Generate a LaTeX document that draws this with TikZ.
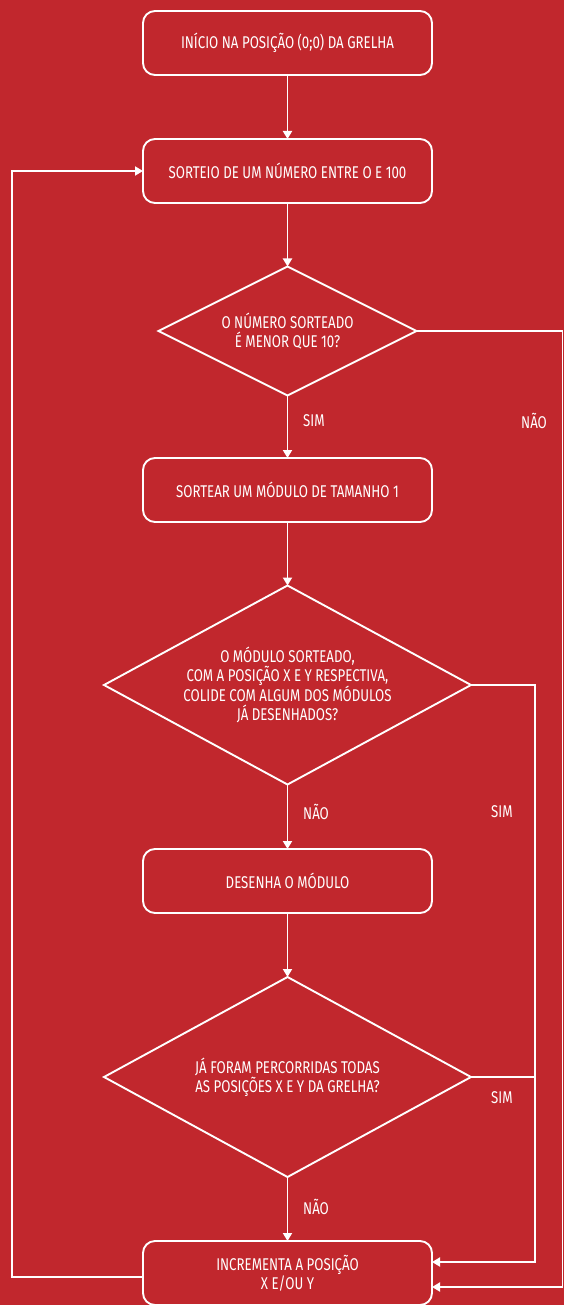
\documentclass[tikz,border=0pt]{standalone}
\usepackage{fontspec}
\setmainfont{Fira Sans}[FakeStretch=0.78]
\usetikzlibrary{shapes.geometric,arrows.meta}
\definecolor{fundo}{RGB}{193,39,45}
\tikzset{
  caixa/.style={draw=white, line width=1.9pt, rounded corners=12pt, minimum width=289pt,
    minimum height=64pt, inner sep=0pt, outer sep=0pt, text=white, align=center},
  losango/.style={draw=white, line width=1.9pt, diamond, inner sep=0pt, outer sep=0pt,
    text=white, align=center},
  rotulo/.style={text=white, anchor=west, inner sep=0pt},
  seta/.style={draw=white, line width=1.9pt, -{Triangle[length=8pt,width=9pt]}},
  linha/.style={draw=white, line width=1.9pt}
}
\begin{document}
\begin{tikzpicture}[x=1pt, y=-1pt, font=\fontsize{17}{19}\selectfont]
  \useasboundingbox (0,0) rectangle (564,1305);
  \fill[fundo] (0,0) rectangle (564,1305);
  % caixas e losangos
  \node[caixa] (inicio) at (287.5,43) {INÍCIO NA POSIÇÃO (0;0) DA GRELHA};
  \node[caixa] (sorteio) at (287.5,171) {SORTEIO DE UM NÚMERO ENTRE O E 100};
  \node[losango, minimum width=258pt, minimum height=129pt, aspect=2] (teste1) at (287.5,331)
    {O NÚMERO SORTEADO\\É MENOR QUE 10?};
  \node[caixa] (modulo) at (287.5,490) {SORTEAR UM MÓDULO DE TAMANHO 1};
  \node[losango, minimum width=367pt, minimum height=199pt, aspect=1.84] (teste2) at (287.5,685)
    {O MÓDULO SORTEADO,\\COM A POSIÇÃO X E Y RESPECTIVA,\\COLIDE COM ALGUM DOS MÓDULOS\\JÁ DESENHADOS?};
  \node[caixa] (desenha) at (287.5,881) {DESENHA O MÓDULO};
  \node[losango, minimum width=367pt, minimum height=200pt, aspect=1.84] (teste3) at (287.5,1077)
    {JÁ FORAM PERCORRIDAS TODAS\\AS POSIÇÕES X E Y DA GRELHA?};
  \node[caixa] (incrementa) at (287.5,1273) {INCREMENTA A POSIÇÃO\\X E/OU Y};
  % rotulos
  \node[rotulo] (sim1) at (303,421) {SIM};
  \node[rotulo] (nao1) at (521,421) {NÃO};
  \node[rotulo] (nao2) at (303,812) {NÃO};
  \node[rotulo] (sim2) at (491,812) {SIM};
  \node[rotulo] (sim3) at (491,1098) {SIM};
  \node[rotulo] (nao3) at (303,1207) {NÃO};
  % pontos de canto
  \coordinate (canto1) at (562.5,331);
  \coordinate (canto2) at (535,685);
  \coordinate (canto3) at (535,1077);
  \coordinate (volta) at (12,171);
  % ligacoes
  \draw[seta] (inicio) -- (sorteio);
  \draw[seta] (sorteio) -- (teste1);
  \draw[seta] (teste1) -- (modulo);
  \draw[seta] (modulo) -- (teste2);
  \draw[seta] (teste2) -- (desenha);
  \draw[seta] (desenha) -- (teste3);
  \draw[seta] (teste3) -- (incrementa);
  \draw[seta] (teste1.east) -- (canto1) |- ([yshift=-14pt]incrementa.east);
  \draw[seta] (teste2.east) -- (canto2) |- ([yshift=11pt]incrementa.east);
  \draw[linha] (teste3.east) -- (canto3);
  \draw[seta] ([yshift=-4pt]incrementa.west) -| (volta) -- (sorteio.west);
\end{tikzpicture}
\end{document}
